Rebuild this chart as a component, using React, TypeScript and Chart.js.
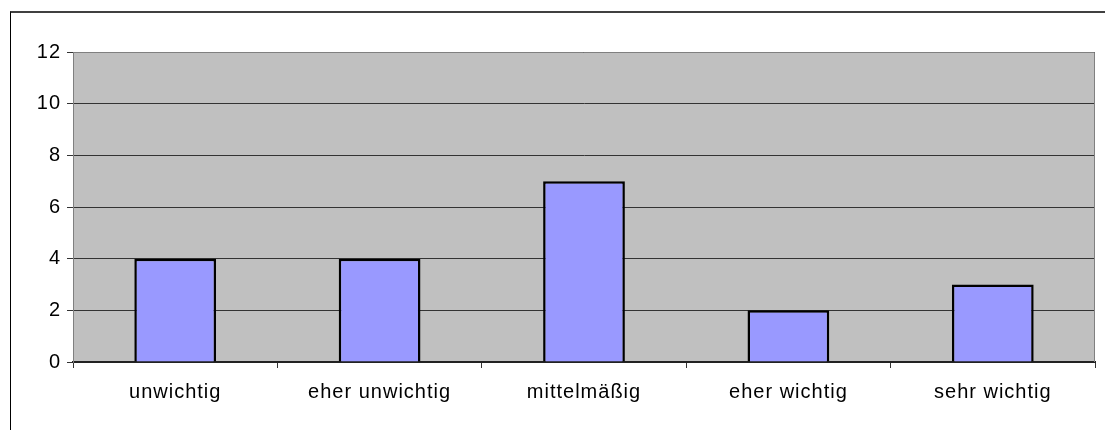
import React, { useEffect, useRef } from "react";
import { Chart, registerables } from "chart.js";

Chart.register(...registerables);

const categories = ["unwichtig", "eher unwichtig", "mittelmäßig", "eher wichtig", "sehr wichtig"];
const counts = [4, 4, 7, 2, 3];
const yMin = 0;
const yMax = 12;
const yStep = 2;

const FONT = "'Liberation Sans', Arial, sans-serif";
const SPACING = "1px";

const plotFrame = {
  id: "plotFrame",
  beforeLayout(chart: any) {
    chart.ctx.letterSpacing = SPACING;
  },
  beforeDraw(chart: any) {
    const { ctx, chartArea: a } = chart;
    ctx.letterSpacing = SPACING;
    ctx.save();
    ctx.fillStyle = "#C0C0C0";
    ctx.fillRect(a.left, a.top, a.right - a.left, a.bottom - a.top);
    ctx.restore();
  },
  afterDatasetsDraw(chart: any) {
    const { ctx, chartArea: a } = chart;
    ctx.save();
    ctx.strokeStyle = "#808080";
    ctx.lineWidth = 1;
    ctx.beginPath();
    ctx.moveTo(a.left, a.top + 0.5);
    ctx.lineTo(a.right - 0.5, a.top + 0.5);
    ctx.lineTo(a.right - 0.5, a.bottom);
    ctx.stroke();
    ctx.restore();
  },
};

export default function App() {
  const ref = useRef<HTMLCanvasElement | null>(null);

  useEffect(() => {
    if (!ref.current) return;
    const chart = new Chart(ref.current, {
      type: "bar",
      data: {
        labels: categories,
        datasets: [
          {
            data: counts,
            backgroundColor: "#9999FF",
            borderColor: "#000000",
            borderWidth: 2.5,
            barPercentage: 0.4,
            categoryPercentage: 1,
          },
        ],
      },
      plugins: [plotFrame],
      options: {
        animation: false,
        responsive: true,
        maintainAspectRatio: false,
        layout: { padding: { top: 52, right: 10, left: 0, bottom: 0 } },
        plugins: {
          legend: { display: false },
          tooltip: { enabled: false },
          title: { display: false },
        },
        scales: {
          x: {
            offset: true,
            afterFit(scale: any) {
              scale.height = 68;
            },
            grid: {
              offset: true,
              drawOnChartArea: false,
              drawTicks: true,
              tickLength: 6,
              color: "#333333",
            },
            border: { display: true, color: "#222222", width: 2 },
            ticks: {
              color: "#000000",
              padding: 12,
              maxRotation: 0,
              autoSkip: false,
              font: { family: FONT, size: 20 },
            },
          },
          y: {
            min: yMin,
            max: yMax,
            afterFit(scale: any) {
              scale.width = 73;
            },
            grid: {
              color: "#333333",
              tickColor: "#333333",
              tickLength: 6,
              lineWidth: 1,
            },
            border: { display: true, color: "#808080", width: 1 },
            ticks: {
              stepSize: yStep,
              color: "#000000",
              padding: 6,
              font: { family: FONT, size: 20 },
            },
          },
        },
      },
    });
    return () => chart.destroy();
  }, []);

  return (
    <div style={{ position: "fixed", left: 0, top: 0, width: 1105, height: 430, background: "#fff" }}>
      <div
        style={{
          position: "absolute",
          left: 10,
          top: 11,
          width: 1105,
          height: 430,
          borderLeft: "1px solid #000",
          borderTop: "2px solid #404040",
          boxSizing: "border-box",
        }}
      />
      <div style={{ position: "absolute", left: 0, top: 0, width: 1105, height: 430 }}>
        <canvas ref={ref} />
      </div>
    </div>
  );
}
